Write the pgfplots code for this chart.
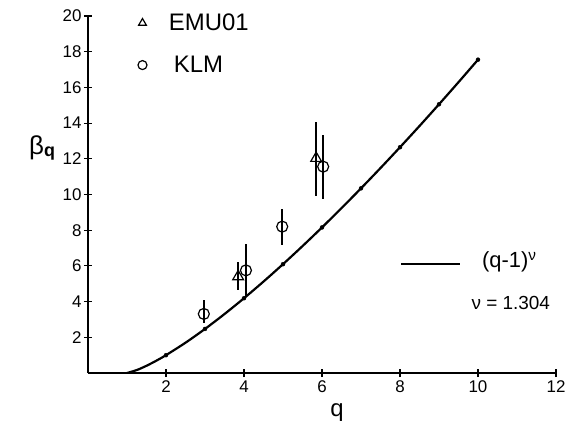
\documentclass[border=0pt]{standalone}
\usepackage{fontspec}
\setmainfont{Liberation Sans}
\usepackage{pgfplots}
\pgfplotsset{compat=1.18}

% (q-1)^nu with nu = 1.304, tabulated
\pgfplotstableread{
q     b
1     0
1.25  0.1640
1.5   0.4050
1.75  0.6872
2     1
2.5   1.6966
3     2.4692
3.5   3.3031
4     4.1896
4.5   5.1222
5     6.0967
5.5   7.1085
6     8.1556
6.5   9.2349
7     10.345
7.5   11.483
8     12.648
8.5   13.838
9     15.054
9.5   16.292
10    17.553
}\curve

\newcommand\tickfont{\fontsize{17}{19}\selectfont}

\begin{document}
\begin{tikzpicture}
  \useasboundingbox (-88bp,-59bp) rectangle (482bp,373bp);
  \begin{axis}[
      scale only axis,
      width=468bp, height=357bp,
      xmin=0, xmax=12, ymin=0, ymax=20,
      axis lines*=left,
      axis line style={line width=1.4bp},
      xtick={2,4,...,12},
      ytick={2,4,...,20},
      xticklabels={2,4,6,8,10,12},
      yticklabels={2,4,6,8,10,12,14,16,18,20},
      tick align=center,
      major tick length=8bp,
      every tick/.style={black, line width=1.1bp},
      xticklabel style={font=\tickfont},
      yticklabel style={font=\tickfont, xshift=1bp},
      xlabel={q},
      xlabel style={font=\fontsize{24}{26}\selectfont, at={(axis description cs:0.532,-0.075)}, anchor=north},
      ylabel={{\fontsize{26}{28}\selectfont β}\raisebox{-0.45ex}{\fontsize{18}{20}\selectfont\bfseries q}},
      ylabel style={rotate=-90, at={(axis description cs:-0.098,0.63)}, anchor=center},
      legend style={at={(axis cs:1.2,20.35)}, anchor=north west, draw=none, fill=none,
        font=\fontsize{24}{26}\selectfont, row sep=20bp, legend cell align=left},
      legend image post style={mark size=4.5bp, line width=1.2bp},
    ]
    % EMU01
    \addplot[only marks, black, mark=triangle, mark size=6.2bp,
      mark options={fill=white, line width=1.2bp},
      error bars/.cd, y dir=both, y explicit, error mark=none,
      error bar style={line width=1.5bp}]
      coordinates {
        (3.85,5.40) += (0,0.84) -= (0,0.75)
        (5.85,12.03) += (0,2.05) -= (0,2.11)
      };
    \addlegendentry{\hspace{20bp}EMU01}
    % KLM
    \addplot[only marks, black, mark=o, mark size=5.5bp,
      mark options={fill=white, line width=1.2bp},
      error bars/.cd, y dir=both, y explicit, error mark=none,
      error bar style={line width=1.5bp}]
      coordinates {
        (2.97,3.31) += (0,0.78) -= (0,0.53)
        (4.05,5.75) += (0,1.46) -= (0,1.48)
        (4.98,8.20) += (0,0.97) -= (0,1.03)
        (6.03,11.56) += (0,1.77) -= (0,1.83)
      };
    \addlegendentry{\hspace{25bp}KLM}
    % power-law curve
    \addplot[black, line width=2.2bp, smooth, forget plot] table[x=q, y=b] {\curve};
    \addplot[black, only marks, mark=*, mark size=2bp, forget plot] coordinates {
      (2,1) (3,2.4692) (4,4.1896) (5,6.0967) (6,8.1556) (7,10.345) (8,12.648) (9,15.054) (10,17.553)
    };
    % line sample for the curve key
    \addplot[black, line width=1.4bp, forget plot] coordinates {(8.03,6.1) (9.54,6.1)};
    \node[anchor=west, font=\fontsize{22}{24}\selectfont, inner sep=0pt] at (axis cs:10.1,6.2) {(q-1)\textsuperscript{ν}};
    \node[anchor=west, font=\fontsize{19}{21}\selectfont, inner sep=0pt] at (axis cs:9.83,3.92) {ν = 1.304};
  \end{axis}
\end{tikzpicture}
\end{document}
